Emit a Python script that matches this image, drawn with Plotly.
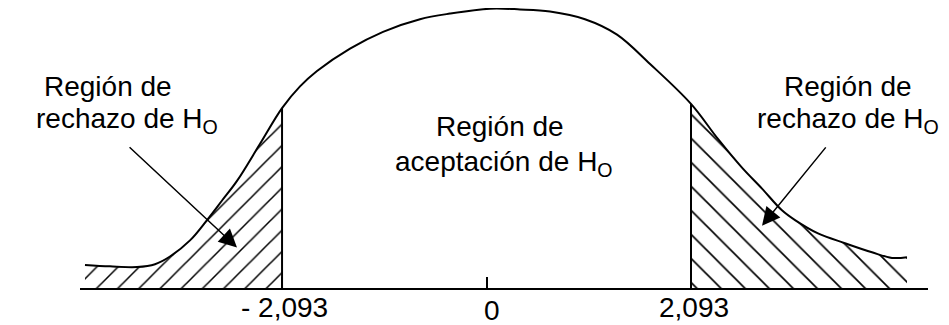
import numpy as np
import plotly.graph_objects as go

# critical t value (two tails)
t_crit = 2.093

# bell curve (hand drawn, not an exact density)
curve_x = [-4.110, -3.854, -3.577, -3.393, -3.240, -3.035, -2.861, -2.707, -2.554, -2.318,
           -2.093, -1.909, -1.735, -1.397, -1.059, -0.681, -0.374, 0.036, 0.343, 0.650,
           1.008, 1.336, 1.674, 2.093, 2.369, 2.615, 2.820, 3.024, 3.158, 3.393,
           3.669, 3.946, 4.150, 4.304]
curve_y = [0.033, 0.031, 0.030, 0.034, 0.045, 0.068, 0.097, 0.125, 0.153, 0.206,
           0.257, 0.288, 0.310, 0.342, 0.366, 0.384, 0.392, 0.399, 0.398, 0.395,
           0.384, 0.362, 0.320, 0.263, 0.213, 0.172, 0.142, 0.111, 0.097, 0.078,
           0.064, 0.051, 0.043, 0.044]

tick_vals = [-t_crit, 0, t_crit]
tick_text = ["- 2,093", "0", "2,093"]

reject_lines = ["Región de", "rechazo de H<sub>O</sub>"]
accept_lines = ["Región de", "aceptación de H<sub>O</sub>"]

FONT = "Liberation Sans, Arial, sans-serif"

cx = np.array(curve_x)
cy = np.array(curve_y)
left = cx <= -t_crit
right = cx >= t_crit
y_left = cy[np.isclose(cx, -t_crit)][0]
y_right = cy[np.isclose(cx, t_crit)][0]

fig = go.Figure()

# hatched rejection regions
fig.add_trace(go.Scatter(
    x=cx[left], y=cy[left], mode="lines",
    line=dict(width=0, shape="spline"),
    fill="tozeroy", fillcolor="black",
    fillpattern=dict(shape="/", size=15, solidity=0.1, fgcolor="black",
                     bgcolor="rgba(255,255,255,0)", fgopacity=1),
    hoverinfo="skip"
))
fig.add_trace(go.Scatter(
    x=cx[right], y=cy[right], mode="lines",
    line=dict(width=0, shape="spline"),
    fill="tozeroy", fillcolor="black",
    fillpattern=dict(shape="\\", size=17, solidity=0.1, fgcolor="black",
                     bgcolor="rgba(255,255,255,0)", fgopacity=1),
    hoverinfo="skip"
))

# the curve
fig.add_trace(go.Scatter(
    x=cx, y=cy, mode="lines",
    line=dict(color="black", width=2, shape="spline", smoothing=1)
))

# critical value lines
fig.add_trace(go.Scatter(
    x=[-t_crit, -t_crit, None, t_crit, t_crit],
    y=[0, y_left, None, 0, y_right],
    mode="lines", line=dict(color="black", width=2)
))

# labels
def add_label(x, y, text, **kw):
    fig.add_annotation(x=x, y=y, text=text, showarrow=False,
                       xanchor="center", yanchor="middle",
                       font=dict(family=FONT, size=28, color="black"), **kw)

add_label(-3.874, 0.2875, reject_lines[0])
add_label(-3.675, 0.239, reject_lines[1])
add_label(0.133, 0.2307, accept_lines[0])
add_label(0.179, 0.178, accept_lines[1])
add_label(3.695, 0.2875, reject_lines[0])
add_label(3.705, 0.239, reject_lines[1])

# axis labels, placed by hand under their marks like in the drawing
for val, txt, dx, y in zip(tick_vals, tick_text, [2, 5, 3], [-0.0686, -0.079, -0.0686]):
    add_label(val, y, txt, xshift=dx, yref="paper")

# arrows pointing into the tails
for (x0, y0, x1, y1) in [(-3.669, 0.203, -2.554, 0.058), (3.485, 0.203, 2.820, 0.089)]:
    fig.add_annotation(x=x1, y=y1, ax=x0, ay=y0, axref="x", ayref="y",
                       text="", showarrow=True, arrowhead=2, arrowsize=2.4,
                       arrowwidth=1.5, arrowcolor="black", standoff=0,
                       font=dict(size=12))

fig.update_xaxes(range=[-4.161, 4.519], showline=True, linecolor="black", linewidth=2,
                 ticks="inside", ticklen=11, tickwidth=2, tickcolor="black",
                 tickvals=tick_vals, showticklabels=False,
                 showgrid=False, zeroline=False, automargin=False)
fig.update_yaxes(range=[0, 0.40], visible=False, automargin=False)

# page body adds 8px, so the figure is sized to fit the window
fig.update_layout(width=941, height=317, margin=dict(l=72, r=21, t=0, b=37),
                  plot_bgcolor="white", paper_bgcolor="white", showlegend=False)

fig.write_html("out.html")
